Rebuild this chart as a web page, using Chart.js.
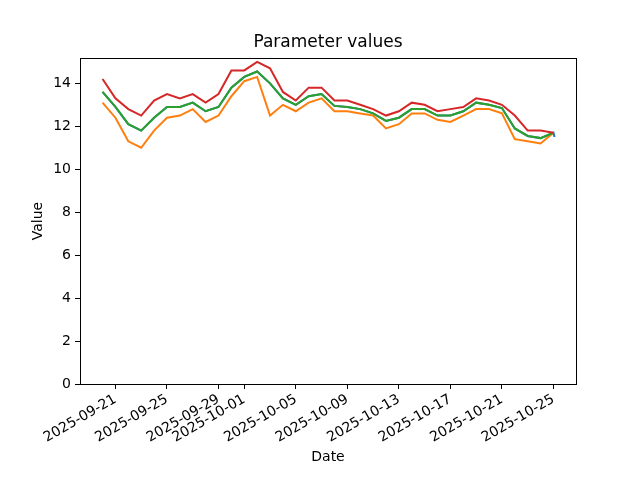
<!DOCTYPE html>
<html>
<head>
<meta charset="utf-8">
<script src="https://cdn.jsdelivr.net/npm/chart.js@4.4.0/dist/chart.umd.min.js"></script>
<style>
  html, body { margin: 0; padding: 0; background: #fff; }
  #wrap { width: 640px; height: 480px; }
</style>
</head>
<body>
<div id="wrap"><canvas id="grafico-linhas" width="640" height="480"></canvas></div>
<script>
// datas (um ponto por dia)
const dates = [
  "2025-09-20", "2025-09-21", "2025-09-22", "2025-09-23", "2025-09-24", "2025-09-25",
  "2025-09-26", "2025-09-27", "2025-09-28", "2025-09-29", "2025-09-30", "2025-10-01",
  "2025-10-02", "2025-10-03", "2025-10-04", "2025-10-05", "2025-10-06", "2025-10-07",
  "2025-10-08", "2025-10-09", "2025-10-10", "2025-10-11", "2025-10-12", "2025-10-13",
  "2025-10-14", "2025-10-15", "2025-10-16", "2025-10-17", "2025-10-18", "2025-10-19",
  "2025-10-20", "2025-10-21", "2025-10-22", "2025-10-23", "2025-10-24", "2025-10-25"
];

// series
const redValues = [
  14.2, 13.3, 12.8, 12.5, 13.2, 13.5, 13.3, 13.5, 13.1, 13.5, 14.6, 14.6,
  15.0, 14.7, 13.6, 13.2, 13.8, 13.8, 13.2, 13.2, 13.0, 12.8, 12.5, 12.7,
  13.1, 13.0, 12.7, 12.8, 12.9, 13.3, 13.2, 13.0, 12.5, 11.8, 11.8, 11.7
];
const greenValues = [
  13.6, 12.9, 12.1, 11.8, 12.4, 12.9, 12.9, 13.1, 12.7, 12.9, 13.8, 14.3,
  14.55, 14.0, 13.3, 13.0, 13.4, 13.5, 12.95, 12.9, 12.8, 12.6, 12.25, 12.4,
  12.8, 12.8, 12.5, 12.5, 12.7, 13.1, 13.0, 12.85, 11.9, 11.55, 11.45, 11.7
];
const orangeValues = [
  13.1, 12.4, 11.3, 11.0, 11.8, 12.4, 12.5, 12.8, 12.2, 12.5, 13.4, 14.1,
  14.3, 12.5, 13.0, 12.7, 13.1, 13.3, 12.7, 12.7, 12.6, 12.5, 11.9, 12.1,
  12.6, 12.6, 12.3, 12.2, 12.5, 12.8, 12.8, 12.6, 11.4, 11.3, 11.2, 11.7
];
// a serie azul fica quase toda por baixo da verde, so aparece a ponta final
const blueValues = greenValues.slice();
const blueTipDate = "2025-10-25T02:00";
const blueTipValue = 11.5;

const tickDates = [
  "2025-09-21", "2025-09-25", "2025-09-29", "2025-10-01", "2025-10-05",
  "2025-10-09", "2025-10-13", "2025-10-17", "2025-10-21", "2025-10-25"
];
const yTicks = [0, 2, 4, 6, 8, 10, 12, 14];
const chartTitle = "Parameter values";

// dias desde a primeira data
const DAY = 86400000;
const t0 = Date.parse(dates[0] + "T00:00");
const dayOf = d => (Date.parse(d.length > 10 ? d : d + "T00:00") - t0) / DAY;

const pts = vals => vals.map((v, i) => ({ x: dayOf(dates[i]), y: v }));
const bluePts = pts(blueValues).concat([{ x: dayOf(blueTipDate), y: blueTipValue }]);

const span = dayOf(dates[dates.length - 1]);
const FONT = "'DejaVu Sans', sans-serif";

// moldura completa (spines de cima e direita) + titulo centrado na area do grafico
const moldura = {
  id: "moldura",
  afterDatasetsDraw(chart) {
    const a = chart.chartArea, ctx = chart.ctx;
    ctx.save();
    ctx.strokeStyle = "#000";
    ctx.lineWidth = 1;
    ctx.strokeRect(Math.round(a.left) + 0.5, Math.round(a.top) + 0.5,
      Math.round(a.right - a.left), Math.round(a.bottom - a.top));
    ctx.fillStyle = "#000";
    ctx.font = "17px " + FONT;
    ctx.textAlign = "center";
    ctx.textBaseline = "middle";
    ctx.fillText(chartTitle, (a.left + a.right) / 2, 43);
    ctx.restore();
  }
};

const graficoLinhas = document.getElementById("grafico-linhas");

new Chart(graficoLinhas, {
  type: "line",
  data: {
    datasets: [
      { label: "blue", data: bluePts, borderColor: "#1f77b4", order: 4 },
      { label: "orange", data: pts(orangeValues), borderColor: "#ff7f0e", order: 3 },
      { label: "green", data: pts(greenValues), borderColor: "#2ca02c", order: 2 },
      { label: "red", data: pts(redValues), borderColor: "#d62728", order: 1 }
    ]
  },
  options: {
    responsive: false,
    animation: false,
    devicePixelRatio: 1,
    layout: { padding: { left: 0, right: 64, top: 58, bottom: 0 } },
    elements: {
      line: { borderWidth: 2, tension: 0, fill: false, borderCapStyle: "butt" },
      point: { radius: 0 }
    },
    plugins: {
      legend: { display: false },
      tooltip: { enabled: false },
      title: { display: false }
    },
    scales: {
      x: {
        type: "linear",
        min: -0.05 * span,
        max: span * 1.05,
        afterBuildTicks: s => { s.ticks = tickDates.map(d => ({ value: dayOf(d) })); },
        afterFit: s => { s.height = 96; },
        ticks: {
          autoSkip: false,
          minRotation: 30,
          maxRotation: 30,
          padding: 2,
          color: "#000",
          font: { family: FONT, size: 14 },
          callback: (v, i) => tickDates[i]
        },
        grid: { drawOnChartArea: false, tickLength: 5, color: "#000" },
        border: { display: true, color: "#000" },
        title: {
          display: true,
          text: "Date",
          color: "#000",
          font: { family: FONT, size: 14 },
          padding: { top: 2, bottom: 14 }
        }
      },
      y: {
        type: "linear",
        min: 0,
        max: 15.18,
        afterBuildTicks: s => { s.ticks = yTicks.map(v => ({ value: v })); },
        afterFit: s => { s.width = 80; },
        ticks: {
          padding: 4,
          color: "#000",
          font: { family: FONT, size: 14 }
        },
        grid: { drawOnChartArea: false, tickLength: 5, color: "#000" },
        border: { display: true, color: "#000" },
        title: {
          display: true,
          text: "Value",
          color: "#000",
          font: { family: FONT, size: 14 },
          padding: { top: 30, bottom: 0 }
        }
      }
    }
  },
  plugins: [moldura]
});
</script>
</body>
</html>
